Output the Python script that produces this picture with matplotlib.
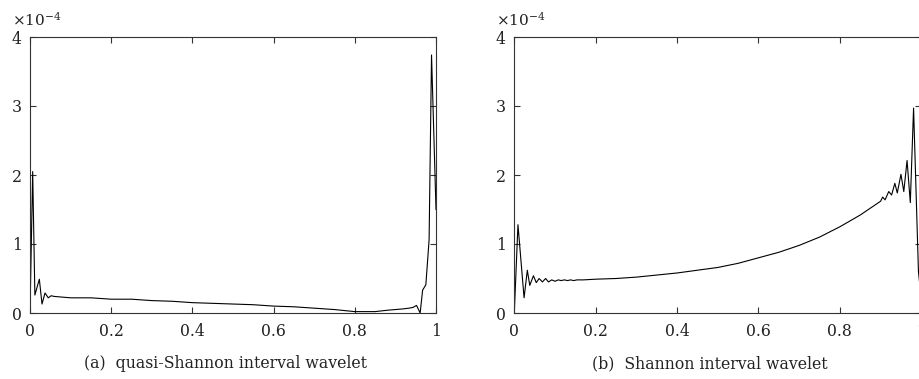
import matplotlib
matplotlib.use("Agg")
import matplotlib.pyplot as plt

# (a) quasi-Shannon interval wavelet, values in units of 1e-4
qs_x = [0.0, 0.0066, 0.012, 0.023, 0.0296, 0.037, 0.045, 0.052, 0.06, 0.08,
        0.1, 0.15, 0.2, 0.25, 0.3, 0.35, 0.4, 0.45, 0.5, 0.55, 0.6, 0.65,
        0.7, 0.75, 0.8, 0.82, 0.85, 0.88, 0.9, 0.92, 0.933, 0.943, 0.952,
        0.961, 0.967, 0.975, 0.983, 0.989, 1.0]
qs_y = [0.0, 2.05, 0.26, 0.49, 0.13, 0.29, 0.22, 0.25, 0.24, 0.23,
        0.22, 0.22, 0.20, 0.20, 0.18, 0.17, 0.15, 0.14, 0.13, 0.12, 0.10, 0.09,
        0.07, 0.05, 0.02, 0.02, 0.02, 0.04, 0.05, 0.06, 0.07, 0.08, 0.11,
        0.0, 0.33, 0.41, 1.06, 3.74, 1.5]

# (b) Shannon interval wavelet, values in units of 1e-4
sh_x = [0.0, 0.009, 0.024, 0.032, 0.038, 0.047, 0.054, 0.061, 0.069, 0.077,
        0.084, 0.092, 0.1, 0.108, 0.115, 0.123, 0.131, 0.138, 0.146, 0.154,
        0.17, 0.2, 0.25, 0.3, 0.35, 0.4, 0.45, 0.5, 0.55, 0.6, 0.65, 0.7,
        0.75, 0.8, 0.85, 0.9, 0.905, 0.911, 0.92, 0.927, 0.935, 0.941, 0.95,
        0.957, 0.965, 0.973, 0.981, 0.993, 1.0]
sh_y = [0.0, 1.28, 0.22, 0.62, 0.40, 0.54, 0.44, 0.50, 0.45, 0.50,
        0.45, 0.48, 0.46, 0.48, 0.47, 0.48, 0.47, 0.48, 0.47, 0.48,
        0.48, 0.49, 0.50, 0.52, 0.55, 0.58, 0.62, 0.66, 0.72, 0.80, 0.88, 0.98,
        1.10, 1.25, 1.42, 1.62, 1.68, 1.64, 1.76, 1.71, 1.88, 1.74, 2.01,
        1.76, 2.21, 1.60, 2.97, 0.6, 0.2]

captions = ["(a)  quasi-Shannon interval wavelet", "(b)  Shannon interval wavelet"]
xticks = [0, 0.2, 0.4, 0.6, 0.8, 1]
xticklabels = ["0", "0.2", "0.4", "0.6", "0.8", "1"]
yticks = [0, 1, 2, 3, 4]

plt.rcParams["font.family"] = ["DejaVu Serif"]
plt.rcParams["mathtext.fontset"] = "dejavuserif"

W, H = 919, 379
fig = plt.figure(figsize=(W / 100, H / 100), dpi=100)

# axes boxes in pixels: left, top, right, bottom
boxes = [(30, 37, 436, 313), (514.3, 37, 921.3, 313)]
series = [(qs_x, qs_y), (sh_x, sh_y)]

for (l, t, r, b), (xs, ys), cap in zip(boxes, series, captions):
    ax = fig.add_axes([l / W, 1 - b / H, (r - l) / W, (b - t) / H])
    ax.plot(xs, ys, color="black", linewidth=0.8)
    ax.set_xlim(0, 1)
    ax.set_ylim(0, 4)
    ax.set_xticks(xticks)
    ax.set_xticklabels(xticklabels)
    ax.set_yticks(yticks)
    ax.tick_params(direction="in", top=True, right=True, length=4, width=0.8,
                   labelsize=11.3, colors="#333333", labelcolor="#222222")
    ax.tick_params(axis="x", pad=7)
    ax.tick_params(axis="y", pad=6)
    for s in ax.spines.values():
        s.set_linewidth(0.8)
        s.set_color("#333333")
    ax.text(-0.045, 1.03, r"$\times10^{-4}$", transform=ax.transAxes,
            fontsize=11, ha="left", va="bottom", color="#222222")
    fig.text(((l + r) / 2 - 8) / W, 1 - 364 / H, cap, ha="center", va="center",
             fontsize=11.3, color="#222222")

fig.savefig("out.png", dpi=100)
